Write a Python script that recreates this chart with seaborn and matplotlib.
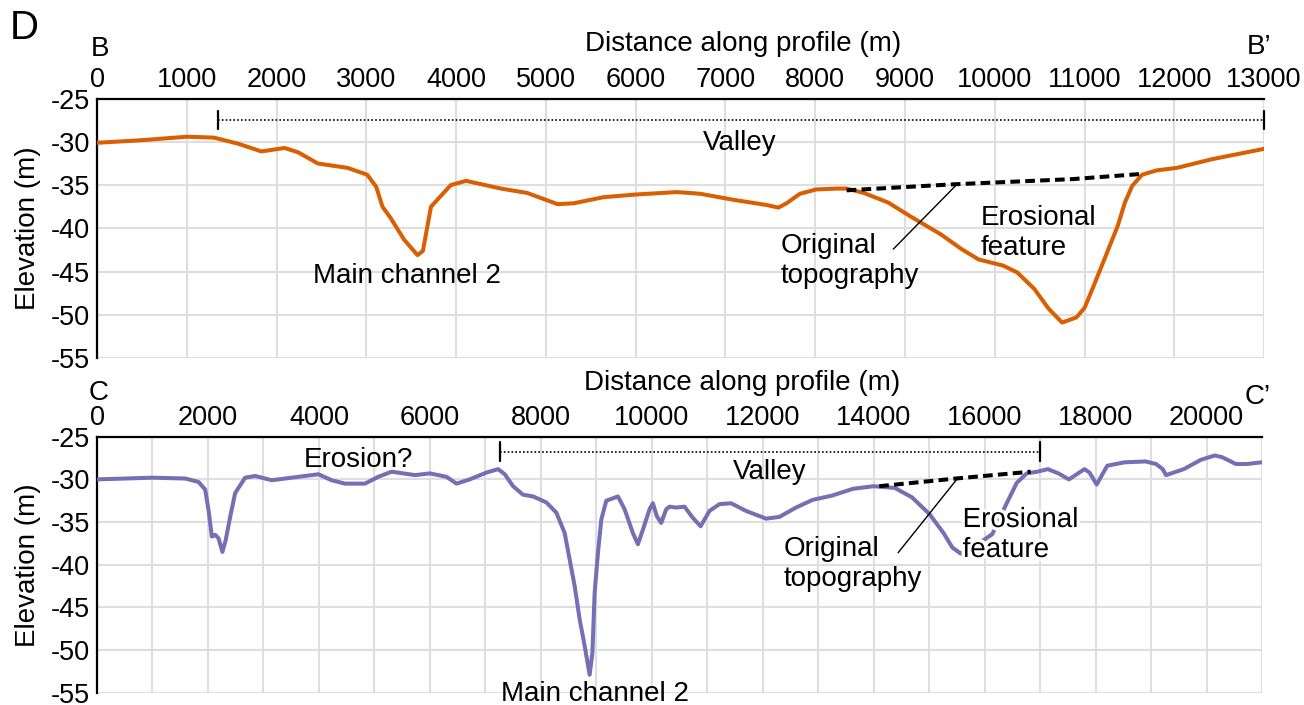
import matplotlib
matplotlib.use("Agg")
import matplotlib.pyplot as plt
import matplotlib.patheffects as pe
import numpy as np
import pandas as pd
import seaborn as sns
from matplotlib.ticker import MultipleLocator

# --- profile B-B' (m along profile, elevation m) ---
bb_dist = [0, 500, 1000, 1300, 1570, 1830, 2090, 2240, 2460, 2790, 3010, 3110,
           3180, 3270, 3420, 3570, 3630, 3720, 3790, 3940, 4110, 4500, 4790,
           5130, 5310, 5640, 5980, 6460, 6720, 7090, 7460, 7590, 7680, 7830,
           8010, 8240, 8350, 8540, 8810, 9090, 9400, 9630, 9820, 10090, 10250,
           10440, 10600, 10750, 10910, 11000, 11100, 11220, 11370, 11450,
           11530, 11640, 11800, 12030, 12420, 13000]
bb_elev = [-30.1, -29.8, -29.4, -29.5, -30.2, -31.1, -30.7, -31.2, -32.5, -33.0,
           -33.8, -35.2, -37.5, -38.8, -41.3, -43.1, -42.6, -37.5, -36.7, -35.0,
           -34.5, -35.4, -35.9, -37.2, -37.1, -36.4, -36.1, -35.8, -36.0, -36.7,
           -37.3, -37.6, -37.1, -36.0, -35.5, -35.4, -35.4, -35.9, -37.0, -38.8,
           -40.7, -42.4, -43.6, -44.3, -45.1, -47.0, -49.3, -50.9, -50.3, -49.2,
           -46.7, -43.6, -39.7, -37.0, -35.1, -33.8, -33.3, -33.0, -32.0, -30.8]
bb_orig_dist = [8350, 9550, 10870, 11640]
bb_orig_elev = [-35.6, -34.9, -34.3, -33.7]
bb_valley = [1350, 13000]

# --- profile C-C' ---
cc_dist = [0, 1000, 1590, 1830, 1950, 2010, 2070, 2130, 2190, 2260, 2320, 2400,
           2490, 2670, 2850, 3150, 3510, 3990, 4230, 4470, 4830, 5070, 5310,
           5730, 6000, 6300, 6480, 6720, 7020, 7230, 7350, 7500, 7680, 7860,
           8100, 8280, 8430, 8520, 8610, 8700, 8790, 8880, 8930, 8970, 9030,
           9090, 9180, 9390, 9510, 9660, 9750, 9840, 9960, 10020, 10090, 10170,
           10260, 10320, 10440, 10590, 10740, 10880, 11040, 11220, 11430, 11700,
           12060, 12300, 12600, 12900, 13250, 13630, 14000, 14380, 14690, 15010,
           15260, 15420, 15570, 16010, 16140, 16260, 16390, 16580, 16760, 16950,
           17140, 17330, 17520, 17800, 17890, 18020, 18210, 18520, 18900, 19090,
           19210, 19270, 19590, 19900, 20150, 20280, 20530, 20720, 21000]
cc_elev = [-30.0, -29.8, -29.9, -30.3, -31.2, -33.6, -36.7, -36.5, -36.9, -38.5,
           -37.1, -34.4, -31.6, -29.8, -29.6, -30.1, -29.8, -29.4, -30.1, -30.5,
           -30.5, -29.7, -29.1, -29.5, -29.3, -29.7, -30.5, -30.0, -29.2, -28.8,
           -29.4, -30.8, -31.8, -32.0, -32.7, -33.9, -36.3, -39.4, -42.5, -46.4,
           -49.5, -52.9, -50.3, -43.3, -38.6, -34.7, -32.5, -32.0, -33.5, -36.3,
           -37.6, -35.9, -33.5, -32.8, -34.3, -35.1, -33.5, -33.2, -33.3, -33.2,
           -34.5, -35.5, -33.7, -32.9, -32.8, -33.7, -34.6, -34.4, -33.3, -32.4,
           -31.9, -31.1, -30.8, -31.0, -32.1, -34.1, -36.3, -38.0, -38.7, -37.0,
           -36.4, -34.7, -32.9, -30.4, -29.3, -29.1, -28.8, -29.3, -30.0, -28.8,
           -29.2, -30.6, -28.4, -28.0, -27.9, -28.2, -28.8, -29.5, -28.8, -27.7,
           -27.2, -27.4, -28.2, -28.2, -28.0]
cc_orig_dist = [14100, 15480, 16830]
cc_orig_elev = [-30.8, -29.9, -29.1]
cc_valley = [7260, 17000]

elev_ticks = [-25, -30, -35, -40, -45, -50, -55]

sns.set_theme(style="whitegrid")
plt.rcParams["font.family"] = ["Liberation Sans", "DejaVu Sans"]
plt.rcParams["axes.unicode_minus"] = False
for key in ["text.color", "axes.labelcolor", "xtick.color", "ytick.color"]:
    plt.rcParams[key] = "black"

pal = sns.color_palette("Dark2")
ORANGE, PURPLE = pal[1], pal[2]
TICK_FS, LAB_FS = 19.5, 20
halo = [pe.withStroke(linewidth=5, foreground="white")]

fig = plt.figure(figsize=(13.04, 7.05), dpi=100)
ax1 = fig.add_axes([0.0744, 0.4922, 0.895, 0.3678])
ax2 = fig.add_axes([0.0744, 0.01745, 0.8934, 0.3631])


def style_axis(ax, xmax, major, minor):
    ax.set_xlim(0, xmax)
    ax.set_ylim(-55, -25)
    ax.set_yticks(elev_ticks)
    ax.xaxis.set_major_locator(MultipleLocator(major))
    ax.xaxis.set_minor_locator(MultipleLocator(minor))
    ax.xaxis.tick_top()
    ax.xaxis.set_label_position("top")
    ax.grid(which="both", color="#dedede", linewidth=1.5)
    ax.set_axisbelow(True)
    ax.tick_params(axis="both", which="both", length=0, labelsize=TICK_FS,
                   colors="black")
    ax.tick_params(axis="x", pad=4)
    ax.tick_params(axis="y", pad=5)
    for side in ["bottom", "right"]:
        ax.spines[side].set_visible(False)
    for side in ["top", "left"]:
        ax.spines[side].set_color("black")
        ax.spines[side].set_linewidth(1.6)
    ax.set_xlabel("Distance along profile (m)", fontsize=LAB_FS)
    ax.xaxis.set_label_coords(0.554, 1.21)
    ax.xaxis.label.set_va("center")
    ax.set_ylabel("Elevation (m)", fontsize=LAB_FS)
    ax.yaxis.set_label_coords(-0.059, 0.5)
    ax.yaxis.label.set_va("center")


def valley_bar(ax, span, y, half):
    ax.plot(span, [y, y], color="black", lw=1.2, linestyle=(0, (1, 1.3)),
            clip_on=False, zorder=3)
    for xv in span:
        ax.plot([xv, xv], [y - half, y + half], color="black", lw=1.6,
                clip_on=False, zorder=3)


def note(ax, x, y, s, **kw):
    # y is the baseline of the last line of the text
    ax.text(x, y, s, fontsize=LAB_FS, ha="left", va="baseline",
            linespacing=1.2, **kw)


# ---------------- B - B' ----------------
style_axis(ax1, 13000, 1000, 1000)
df_bb = pd.DataFrame({"dist": bb_dist, "elev": bb_elev})
sns.lineplot(data=df_bb, x="dist", y="elev", ax=ax1, color=ORANGE, lw=2.9,
             estimator=None, sort=False, solid_joinstyle="round",
             solid_capstyle="round", zorder=4)
ax1.plot(bb_orig_dist, bb_orig_elev, color="black", lw=2.9,
         linestyle=(0, (2.4, 1.3)), zorder=5)
ax1.plot([8870, 9570], [-42.4, -35.0], color="black", lw=1.0, zorder=5)
valley_bar(ax1, bb_valley, -27.5, 1.05)
ax1.text(7160, -30.9, "Valley", fontsize=LAB_FS, ha="center", va="baseline")
note(ax1, 2403, -46.3, "Main channel 2")
note(ax1, 7612, -46.3, "Original\ntopography")
note(ax1, 9841, -43.1, "Erosional\nfeature")

# ---------------- C - C' ----------------
style_axis(ax2, 21000, 2000, 1000)
df_cc = pd.DataFrame({"dist": cc_dist, "elev": cc_elev})
sns.lineplot(data=df_cc, x="dist", y="elev", ax=ax2, color=PURPLE, lw=2.9,
             estimator=None, sort=False, solid_joinstyle="round",
             solid_capstyle="round", zorder=4)
ax2.plot(cc_orig_dist, cc_orig_elev, color="black", lw=2.9,
         linestyle=(0, (2.4, 1.3)), zorder=5)
ax2.plot([14440, 15510], [-38.6, -29.9], color="black", lw=1.0, zorder=5)
valley_bar(ax2, cc_valley, -26.75, 1.1)
note(ax2, 3718, -28.5, "Erosion?")
note(ax2, 11460, -30.0, "Valley")
note(ax2, 7290, -56.0, "Main channel 2", clip_on=False)
note(ax2, 12373, -42.5, "Original\ntopography", zorder=6)
note(ax2, 15603, -39.1, "Erosional\nfeature", zorder=6, path_effects=halo)

# panel letters / profile end labels
fig.text(24 / 1304, 1 - 28 / 705, "D", fontsize=29, ha="center", va="center")
fig.text(100 / 1304, 1 - 48.5 / 705, "B", fontsize=LAB_FS, ha="center",
         va="center")
fig.text(1259 / 1304, 1 - 47.5 / 705, "B\u2019", fontsize=LAB_FS, ha="center",
         va="center")
fig.text(99 / 1304, 1 - 393.5 / 705, "C", fontsize=LAB_FS, ha="center",
         va="center")
fig.text(1257.5 / 1304, 1 - 397 / 705, "C\u2019", fontsize=LAB_FS,
         ha="center", va="center")

fig.savefig("out.png", dpi=100, facecolor="white")
